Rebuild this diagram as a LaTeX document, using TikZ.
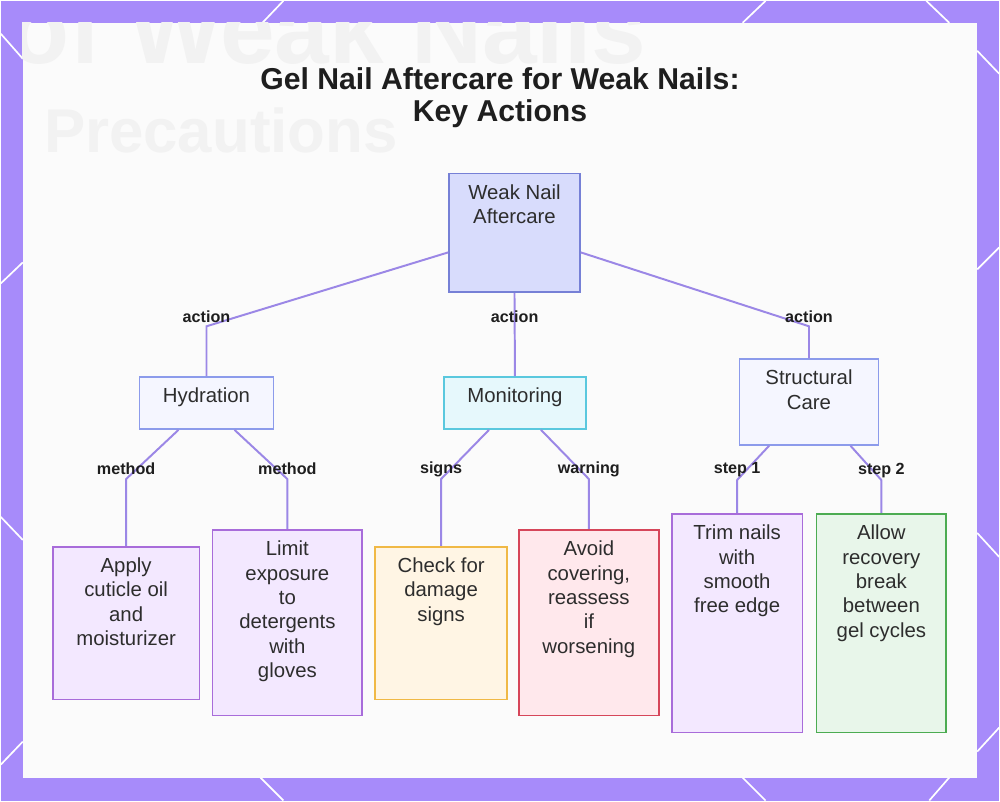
\documentclass[tikz,border=0pt]{standalone}
\usepackage{fontspec}
\setmainfont{Liberation Sans}
\definecolor{frame}{RGB}{167,139,250}
\definecolor{panel}{RGB}{251,251,251}
\definecolor{ghost}{RGB}{242,242,242}
\definecolor{head}{RGB}{30,30,30}
\definecolor{ink}{RGB}{45,45,45}
\definecolor{wire}{RGB}{155,135,230}
\definecolor{rootbg}{RGB}{216,220,252}
\definecolor{rootln}{RGB}{118,128,214}
\definecolor{grpbg}{RGB}{245,246,255}
\definecolor{grpln}{RGB}{140,155,235}
\definecolor{monbg}{RGB}{230,248,252}
\definecolor{monln}{RGB}{90,200,222}
\definecolor{lilacbg}{RGB}{243,232,255}
\definecolor{lilacln}{RGB}{168,108,218}
\definecolor{amberbg}{RGB}{255,245,228}
\definecolor{amberln}{RGB}{240,185,70}
\definecolor{rosebg}{RGB}{255,232,236}
\definecolor{roseln}{RGB}{214,70,90}
\definecolor{mintbg}{RGB}{232,246,234}
\definecolor{mintln}{RGB}{76,172,82}

\begin{document}
\begin{tikzpicture}[x=0.025cm,y=-0.025cm,
  box/.style={draw=#1, line width=1.2pt, inner sep=0pt, anchor=north},
  txt/.style={anchor=north, align=center, inner sep=0pt, yshift=-0.29cm, text=ink,
    font=\fontsize{14.5pt}{17.4pt}\selectfont},
  link/.style={draw=wire, line width=1.4pt},
  elab/.style={text=head, font=\fontsize{11.5pt}{13pt}\selectfont\bfseries}]
  % frame and panel
  \fill[frame] (0,0) rectangle (1000,801);
  \foreach \xa/\ya/\xb/\yb in {0/33/22/58, 283/0/262/22, 766/0/743/22, 927/0/950/22,
      978/50/1000/73, 0/283/22/262, 0/517/22/540, 978/269/1000/247, 978/533/1000/557,
      0/765/22/742, 260/778/283/801, 743/778/766/801, 950/778/930/801, 978/752/1000/728}
    \draw[white, line width=1.2pt] (\xa,\ya) -- (\xb,\yb);
  \fill[panel] (22,22) rectangle (978,778);
  \begin{scope}
    \clip (22,22) rectangle (978,778);
    \node[anchor=base west, inner sep=0pt, text=ghost,
      font=\fontsize{70pt}{72pt}\selectfont\bfseries] (ghostA) at (8,63) {of Weak Nails};
    \node[anchor=base west, inner sep=0pt, text=ghost,
      font=\fontsize{44pt}{46pt}\selectfont\bfseries] (ghostB) at (43,152) {Precautions};
  \end{scope}

  \node[align=center, text=head, font=\fontsize{21.5pt}{23.4pt}\selectfont\bfseries]
    (title) at (500,97) {Gel Nail Aftercare for Weak Nails:\\Key Actions};

  % boxes
  \node[box=rootln, fill=rootbg, minimum width=3.275cm, minimum height=2.975cm,
    label={[txt]north:Weak Nail\\Aftercare}] (root) at (514.5,172) {};
  \node[box=grpln, fill=grpbg, minimum width=3.35cm, minimum height=1.3cm,
    label={[txt]north:Hydration}] (hyd) at (206,376) {};
  \node[box=monln, fill=monbg, minimum width=3.55cm, minimum height=1.3cm,
    label={[txt]north:Monitoring}] (mon) at (515,376) {};
  \node[box=grpln, fill=grpbg, minimum width=3.475cm, minimum height=2.15cm,
    label={[txt]north:Structural\\Care}] (struct) at (809.5,358) {};
  \node[box=lilacln, fill=lilacbg, minimum width=3.675cm, minimum height=3.825cm,
    label={[txt]north:Apply\\cuticle oil\\and\\moisturizer}] (oil) at (125.5,546) {};
  \node[box=lilacln, fill=lilacbg, minimum width=3.75cm, minimum height=4.65cm,
    label={[txt]north:Limit\\exposure\\to\\detergents\\with\\gloves}] (gloves) at (287,529) {};
  \node[box=amberln, fill=amberbg, minimum width=3.3cm, minimum height=3.825cm,
    label={[txt]north:Check for\\damage\\signs}] (check) at (441,546) {};
  \node[box=roseln, fill=rosebg, minimum width=3.5cm, minimum height=4.65cm,
    label={[txt]north:{Avoid\\covering,\\reassess\\if\\worsening}}] (avoid) at (589,529) {};
  \node[box=lilacln, fill=lilacbg, minimum width=3.275cm, minimum height=5.475cm,
    label={[txt]north:Trim nails\\with\\smooth\\free edge}] (trim) at (737.5,513) {};
  \node[box=mintln, fill=mintbg, minimum width=3.25cm, minimum height=5.475cm,
    label={[txt]north:Allow\\recovery\\break\\between\\gel cycles}] (rest) at (882,513) {};

  % links
  \draw[link] ([yshift=-0.49cm]root.west) -- ([yshift=1.25cm]hyd.north)
    node[elab, yshift=0.25cm] {action} -- (hyd.north);
  \draw[link] (root.south) -- node[elab, pos=0.28] {action} (mon.north);
  \draw[link] ([yshift=-0.49cm]root.east) -- ([yshift=0.8cm]struct.north)
    node[elab, yshift=0.25cm] {action} -- (struct.north);
  \draw[link] ([xshift=-0.7cm]hyd.south) -- ([yshift=1.675cm]oil.north)
    node[elab, yshift=0.25cm] {method} -- (oil.north);
  \draw[link] ([xshift=0.7cm]hyd.south) -- ([yshift=1.25cm]gloves.north)
    node[elab, yshift=0.25cm] {method} -- (gloves.north);
  \draw[link] ([xshift=-0.65cm]mon.south) -- ([yshift=1.675cm]check.north)
    node[elab, yshift=0.25cm] {signs} -- (check.north);
  \draw[link] ([xshift=0.65cm]mon.south) -- ([yshift=1.25cm]avoid.north)
    node[elab, yshift=0.25cm] {warning} -- (avoid.north);
  \draw[link] ([xshift=-1cm]struct.south) -- ([yshift=0.825cm]trim.north)
    node[elab, yshift=0.25cm] {step 1} -- (trim.north);
  \draw[link] ([xshift=1.04cm]struct.south) -- ([yshift=0.825cm]rest.north)
    node[elab, yshift=0.25cm] {step 2} -- (rest.north);
\end{tikzpicture}
\end{document}
